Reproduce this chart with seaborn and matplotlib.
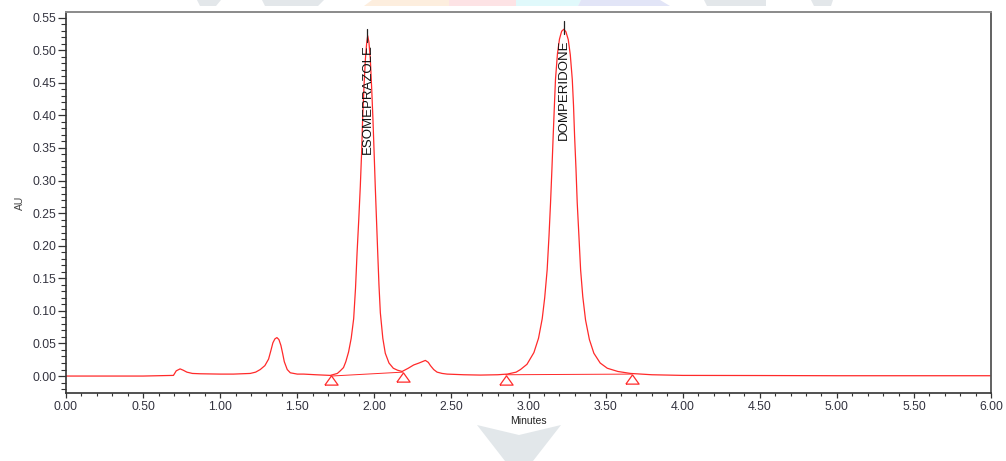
import numpy as np
import pandas as pd
import seaborn as sns
import matplotlib.pyplot as plt
from matplotlib.patches import Polygon
from matplotlib.ticker import MultipleLocator

# Chromatogram trace (minutes, AU)
minutes = [0.00, 0.50, 0.697, 0.715, 0.740, 0.760, 0.784, 0.82, 0.870, 1.00, 1.086, 1.195,
           1.23, 1.26, 1.29, 1.314, 1.330, 1.342, 1.355, 1.368, 1.381, 1.394, 1.405, 1.416,
           1.435, 1.455, 1.50, 1.541, 1.62, 1.714, 1.76, 1.779, 1.80, 1.815, 1.833, 1.850,
           1.866, 1.878, 1.888, 1.899, 1.909, 1.917, 1.924, 1.933, 1.942, 1.950, 1.957,
           1.965, 1.974, 1.983, 1.991, 1.999, 2.006, 2.014, 2.022, 2.030, 2.039, 2.055,
           2.071, 2.095, 2.123, 2.150, 2.180, 2.220, 2.255, 2.290, 2.331, 2.350, 2.364,
           2.385, 2.407, 2.44, 2.472, 2.58, 2.688, 2.80, 2.862, 2.92, 2.948, 2.99, 3.035,
           3.065, 3.089, 3.105, 3.121, 3.133, 3.143, 3.152, 3.160, 3.168, 3.175, 3.188,
           3.201, 3.215, 3.229, 3.243, 3.258, 3.271, 3.284, 3.292, 3.299, 3.308, 3.316,
           3.327, 3.338, 3.352, 3.370, 3.395, 3.424, 3.465, 3.511, 3.58, 3.662, 3.80,
           4.00, 4.50, 5.00, 5.50, 6.00]
au = [0.000, 0.000, 0.001, 0.008, 0.011, 0.009, 0.006, 0.004, 0.0035, 0.003, 0.003, 0.004,
      0.006, 0.010, 0.016, 0.026, 0.040, 0.051, 0.057, 0.059, 0.056, 0.047, 0.035, 0.022,
      0.010, 0.005, 0.003, 0.003, 0.002, 0.001, 0.004, 0.008, 0.013, 0.022, 0.037, 0.058,
      0.088, 0.135, 0.189, 0.240, 0.291, 0.340, 0.394, 0.445, 0.486, 0.510, 0.522,
      0.512, 0.486, 0.440, 0.394, 0.340, 0.291, 0.240, 0.189, 0.140, 0.097, 0.058,
      0.035, 0.020, 0.012, 0.009, 0.007, 0.012, 0.017, 0.020, 0.024, 0.021, 0.016,
      0.010, 0.006, 0.004, 0.003, 0.002, 0.0015, 0.002, 0.003, 0.006, 0.010, 0.018, 0.036,
      0.058, 0.088, 0.120, 0.163, 0.215, 0.266, 0.318, 0.368, 0.415, 0.455, 0.495,
      0.517, 0.529, 0.532, 0.528, 0.516, 0.493, 0.455, 0.415, 0.368, 0.318, 0.266,
      0.215, 0.163, 0.122, 0.086, 0.056, 0.035, 0.020, 0.012, 0.007, 0.004, 0.002,
      0.001, 0.0008, 0.0005, 0.0005, 0.0005]

# named peaks
peak_names = ["ESOMEPRAZOLE", "DOMPERIDONE"]
peak_rt = [1.955, 3.229]
peak_top = [0.532, 0.545]
label_top = [0.509, 0.517]

# integration baselines (start/end of each peak)
base_start_x = [1.719, 2.851]
base_start_y = [0.000, 0.002]
base_end_x = [2.184, 3.669]
base_end_y = [0.006, 0.003]
marker_x = [1.719, 2.184, 2.851, 3.669]
marker_y = [-0.006, -0.0015, -0.0054, -0.0046]

trace = pd.DataFrame({"Minutes": minutes, "AU": au})

sns.set_style("ticks")
plt.rcParams['font.family'] = ['Liberation Sans', 'DejaVu Sans']

fig = plt.figure(figsize=(10.06, 4.61), dpi=100)
ax = fig.add_axes([66 / 1006, 68 / 461, 925 / 1006, 381 / 461])

# faint watermark shapes behind the plot
wm = [
    ([(197, 0), (221, 0), (216, 6), (200, 6)], '#e3e7ea'),
    ([(262, 0), (324, 0), (318, 6), (265, 6)], '#e3e7ea'),
    ([(372, 0), (449, 0), (449, 6), (364, 6)], '#fdeede'),
    ([(449, 0), (516, 0), (516, 6), (449, 6)], '#fde3e5'),
    ([(516, 0), (581, 0), (578, 6), (516, 6)], '#e0f9fb'),
    ([(581, 0), (660, 0), (670, 6), (578, 6)], '#e2e5f7'),
    ([(704, 0), (766, 0), (766, 6), (707, 6)], '#e3e7ea'),
    ([(811, 0), (833, 0), (831, 6), (814, 6)], '#e3e7ea'),
    ([(477, 425), (519, 435), (561, 425), (533, 461), (505, 461)], '#e2e7ea'),
]
for pts, col in wm:
    fig.patches.append(Polygon([(x / 1006, 1 - y / 461) for x, y in pts], closed=True,
                               transform=fig.transFigure, facecolor=col, edgecolor='none',
                               zorder=0))

sns.lineplot(data=trace, x="Minutes", y="AU", ax=ax, color='#ff2a2a', linewidth=0.9,
             sort=False, estimator=None)

for sx, sy, ex, ey in zip(base_start_x, base_start_y, base_end_x, base_end_y):
    ax.plot([sx, ex], [sy, ey], color='#ff2a2a', linewidth=0.7)

tri = [(-1, -0.7), (1, -0.7), (0, 0.7), (-1, -0.7)]
ax.plot(marker_x, marker_y, linestyle='none', marker=tri, markersize=9.5,
        markerfacecolor='none', markeredgecolor='#ff2a2a', markeredgewidth=0.9)

for name, rt, top, lt in zip(peak_names, peak_rt, peak_top, label_top):
    ax.plot([rt, rt], [top, top - 0.02], color='#222222', linewidth=0.9)
    ax.text(rt, lt, name, rotation=90, ha='center', va='top', fontsize=9.5,
            family=['Liberation Sans Narrow', 'Liberation Sans', 'DejaVu Sans'],
            color='#111111')

ax.set_xlim(0, 6)
ax.set_ylim(-0.026, 0.5585)
ax.xaxis.set_major_locator(MultipleLocator(0.5))
ax.xaxis.set_minor_locator(MultipleLocator(0.1))
ax.yaxis.set_major_locator(MultipleLocator(0.05))
ax.yaxis.set_minor_locator(MultipleLocator(0.01))
ax.xaxis.set_major_formatter(plt.FormatStrFormatter('%.2f'))
ax.yaxis.set_major_formatter(plt.FormatStrFormatter('%.2f'))

ax.tick_params(axis='y', which='major', length=6, width=0.9, pad=1, labelsize=8.8,
               colors='#333333', labelcolor='#33333f')
ax.tick_params(axis='y', which='minor', length=3.6, width=0.8, colors='#333333')
ax.tick_params(axis='x', which='major', length=3.8, width=0.9, pad=2, labelsize=8.8,
               colors='#333333', labelcolor='#33333f')
ax.tick_params(axis='x', which='minor', length=2.4, width=0.8, colors='#333333')

ax.set_xlabel("Minutes", fontsize=7.5, color='#222222', labelpad=2)
ax.set_ylabel("AU", fontsize=7.5, color='#444444', labelpad=5)

for side in ['left', 'bottom']:
    ax.spines[side].set_color('#333333')
    ax.spines[side].set_linewidth(1.2)
ax.spines['top'].set_visible(True)
ax.spines['right'].set_visible(True)
ax.spines['top'].set_color('#8a8a8a')
ax.spines['top'].set_linewidth(1.4)
ax.spines['right'].set_color('#555555')
ax.spines['right'].set_linewidth(1.3)
ax.set_facecolor('none')
ax.set_zorder(1)

fig.savefig("out.png", dpi=100)
